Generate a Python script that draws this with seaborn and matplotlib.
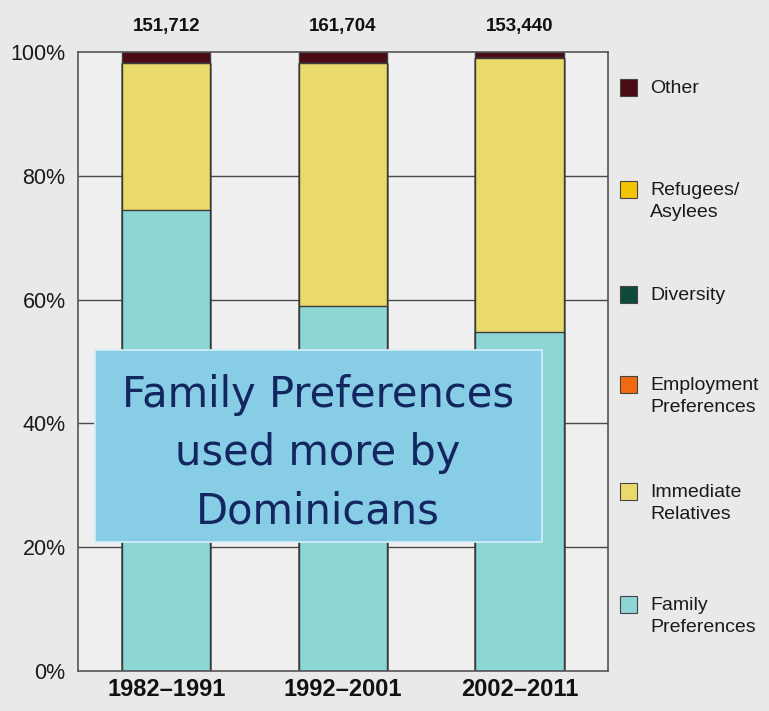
import matplotlib
matplotlib.use("Agg")
import matplotlib.pyplot as plt
from matplotlib.patches import Rectangle
import numpy as np
import pandas as pd
import seaborn as sns

# Share of admissions by class, per decade (percent)
periods = ["1982\u20131991", "1992\u20132001", "2002\u20132011"]
totals = ["151,712", "161,704", "153,440"]
family_pref = [74.4, 59.0, 54.7]
immediate_rel = [23.8, 39.2, 44.3]
employment_pref = [0.0, 0.0, 0.0]
diversity = [0.0, 0.0, 0.0]
refugees = [0.0, 0.0, 0.0]
other = [1.8, 1.8, 1.0]

# stacking order, bottom to top
layers = [
    ("Family\nPreferences", family_pref, "#8dd6d6"),
    ("Immediate\nRelatives", immediate_rel, "#e9da6b"),
    ("Employment\nPreferences", employment_pref, "#f06a10"),
    ("Diversity", diversity, "#0d4a3c"),
    ("Refugees/\nAsylees", refugees, "#f2c500"),
    ("Other", other, "#4a0c14"),
]

sns.set_theme(style="white")
plt.rcParams["font.family"] = ["Liberation Sans", "DejaVu Sans"]

fig = plt.figure(figsize=(7.69, 7.11), dpi=100, facecolor="#e9e9e9")
W, H = 769, 711
ax = fig.add_axes([78 / W, 1 - 671 / H, (608 - 78) / W, (671 - 52) / H])
ax.set_facecolor("#efefef")

# cumulative heights, drawn from the top layer down so lower layers overlay
cum = np.cumsum([np.array(v, dtype=float) for _, v, _ in layers], axis=0)
for i in range(len(layers) - 1, -1, -1):
    df = pd.DataFrame({"period": periods, "value": cum[i]})
    sns.barplot(data=df, x="period", y="value", color=layers[i][2], saturation=1,
                width=0.5, edgecolor="#3a3a3a", linewidth=1.0, ax=ax, zorder=2)

ax.set_xlim(-0.5, 2.5)
ax.set_ylim(0, 100)
ax.set_yticks([0, 20, 40, 60, 80, 100])
ax.set_yticklabels(["0%", "20%", "40%", "60%", "80%", "100%"], fontsize=15.5, color="#1a1a1a")
ax.set_xticks(range(3))
ax.set_xticklabels(periods, fontsize=17, fontweight="bold", color="#111111")
ax.tick_params(axis="both", length=0)
ax.tick_params(axis="y", pad=9)
ax.tick_params(axis="x", pad=5)
ax.set_xlabel("")
ax.set_ylabel("")
for y in [20, 40, 60, 80]:
    ax.axhline(y, color="#4a4a4a", linewidth=1.0, zorder=1)
for s in ax.spines.values():
    s.set_visible(True)
    s.set_color("#555555")
    s.set_linewidth(1.2)

# totals above each bar
for i, t in enumerate(totals):
    ax.text(i, 104.2, t, ha="center", va="center", fontsize=13.5, fontweight="bold",
            color="#111111", clip_on=False)

# legend, top entry first
legend_rows = [("Other", 88), ("Refugees/\nAsylees", 190), ("Diversity", 295),
               ("Employment\nPreferences", 385), ("Immediate\nRelatives", 492),
               ("Family\nPreferences", 605)]
colors = {name: c for name, _, c in layers}
for name, ypix in legend_rows:
    fig.add_artist(Rectangle((620 / W, 1 - (ypix + 8) / H), 17 / W, 17 / H,
                             transform=fig.transFigure, facecolor=colors[name],
                             edgecolor="#444444", linewidth=0.8))
    fig.text(650 / W, 1 - (ypix - 8) / H, name, ha="left", va="top", fontsize=14,
             color="#1a1a1a", linespacing=1.4)

# callout box
fig.add_artist(Rectangle((95 / W, 1 - 542 / H), (542 - 95) / W, (542 - 350) / H,
                         transform=fig.transFigure, facecolor="#88cde6",
                         edgecolor="#d6eef6", linewidth=1.2, zorder=5))
fig.text(318 / W, 1 - 453 / H, "Family Preferences\nused more by\nDominicans",
         ha="center", va="center", fontsize=30, color="#13265f",
         family=["DejaVu Sans"], linespacing=1.5, zorder=6)

fig.savefig("out.png", dpi=100, facecolor=fig.get_facecolor())
